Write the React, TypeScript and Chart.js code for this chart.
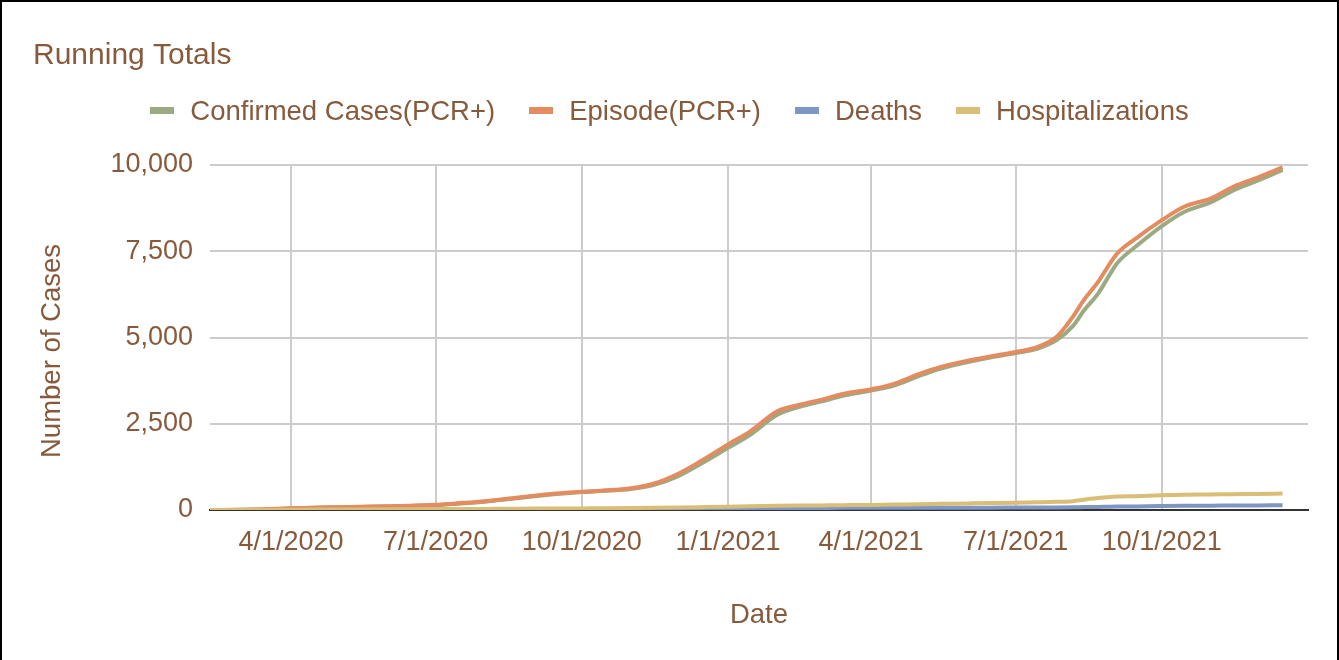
import React, { useEffect, useRef } from "react";
import { Chart, registerables } from "chart.js";

Chart.register(...registerables);

// ---- data ----
const dates = [
  "2/10/2020", "3/1/2020", "3/15/2020", "4/1/2020", "4/15/2020", "5/1/2020", "5/15/2020",
  "6/1/2020", "6/15/2020", "7/1/2020", "7/15/2020", "8/1/2020", "8/15/2020", "9/1/2020",
  "9/15/2020", "10/1/2020", "10/15/2020", "11/1/2020", "11/15/2020", "12/1/2020", "12/15/2020",
  "1/1/2021", "1/15/2021", "2/1/2021", "2/15/2021", "3/1/2021", "3/15/2021", "4/1/2021",
  "4/15/2021", "5/1/2021", "5/15/2021", "6/1/2021", "6/15/2021", "7/1/2021", "7/15/2021",
  "7/27/2021", "8/6/2021", "8/13/2021", "8/22/2021", "8/28/2021", "9/3/2021", "9/15/2021",
  "10/1/2021", "10/15/2021", "11/1/2021", "11/15/2021", "12/1/2021", "12/16/2021",
];

const confirmedCases = [
  0, 4, 18, 45, 62, 78, 90,
  104, 118, 140, 183, 240, 308, 398,
  460, 518, 555, 610, 720, 990, 1340,
  1800, 2180, 2760, 2990, 3150, 3320, 3460,
  3600, 3880, 4100, 4290, 4420, 4550, 4680,
  4930, 5330, 5780, 6280, 6730, 7160, 7650,
  8230, 8640, 8920, 9260, 9560, 9860,
];

const episodes = [
  0, 5, 20, 50, 68, 82, 95,
  110, 125, 150, 195, 255, 325, 415,
  475, 530, 565, 630, 760, 1060, 1420,
  1900, 2280, 2860, 3050, 3200, 3370, 3500,
  3650, 3940, 4150, 4330, 4450, 4580, 4730,
  5030, 5600, 6090, 6620, 7050, 7440, 7880,
  8400, 8790, 9030, 9370, 9650, 9930,
];

const deaths = [
  0, 0, 0, 1, 2, 3, 3,
  4, 4, 5, 6, 7, 8, 9,
  10, 11, 13, 16, 22, 28, 35,
  42, 48, 54, 58, 60, 62, 63,
  64, 65, 66, 67, 68, 70, 72,
  75, 80, 85, 90, 95, 100, 105,
  115, 120, 125, 129, 133, 137,
];

const hospitalizations = [
  0, 1, 3, 8, 12, 15, 18,
  20, 22, 25, 28, 32, 36, 40,
  43, 47, 50, 55, 62, 72, 82,
  95, 108, 120, 128, 134, 140, 148,
  158, 168, 178, 190, 200, 212, 225,
  238, 255, 300, 345, 370, 388, 400,
  425, 440, 450, 458, 466, 478,
];

const seriesNames = ["Confirmed Cases(PCR+)", "Episode(PCR+)", "Deaths", "Hospitalizations"];
const seriesColors = ["#9aab83", "#e48b5f", "#7d96c4", "#dabd77"];

const xTickLabels = ["4/1/2020", "7/1/2020", "10/1/2020", "1/1/2021", "4/1/2021", "7/1/2021", "10/1/2021"];
const xRange = ["2/10/2020", "1/1/2022"];
const yTickValues = [0, 2500, 5000, 7500, 10000];

const chartTitle = "Running Totals";
const xAxisTitle = "Date";
const yAxisTitle = "Number of Cases";

// ---- styling ----
const TEXT = "#885a3c";
const FONT = '"Liberation Sans", Arial, Helvetica, sans-serif';

function toDay(s: string): number {
  const [m, d, y] = s.split("/").map(Number);
  return Math.round((Date.UTC(y, m - 1, d) - Date.UTC(2020, 0, 1)) / 86400000);
}

const dayToLabel = new Map<number, string>(xTickLabels.map((l) => [toDay(l), l]));

const textPlugin = {
  id: "customText",
  afterDraw(chart: any) {
    const ctx = chart.ctx as CanvasRenderingContext2D;
    const ca = chart.chartArea;
    ctx.save();
    ctx.fillStyle = TEXT;
    ctx.textBaseline = "alphabetic";

    // title
    ctx.textAlign = "left";
    ctx.font = `30px ${FONT}`;
    ctx.fillText(chartTitle, 33, 64);

    // legend
    ctx.font = `27.5px ${FONT}`;
    const boxW = 24;
    const boxH = 7;
    const gapBox = 16;
    const gapItem = 34;
    const widths = seriesNames.map((n) => ctx.measureText(n).width);
    const total = widths.reduce((a, w) => a + boxW + gapBox + w, 0) + gapItem * (seriesNames.length - 1);
    let x = (chart.width - total) / 2;
    const cy = 110.5;
    seriesNames.forEach((name, i) => {
      ctx.fillStyle = seriesColors[i];
      ctx.fillRect(Math.round(x), cy - boxH / 2, boxW, boxH);
      x += boxW + gapBox;
      ctx.fillStyle = TEXT;
      ctx.fillText(name, x, 120);
      x += widths[i] + gapItem;
    });

    // x axis title
    ctx.textAlign = "center";
    ctx.font = `27.5px ${FONT}`;
    ctx.fillText(xAxisTitle, (ca.left + ca.right) / 2, 623);

    // y axis title
    ctx.translate(60, 351);
    ctx.rotate(-Math.PI / 2);
    ctx.fillText(yAxisTitle, 0, 0);
    ctx.restore();
  },
};

export default function App() {
  const canvasRef = useRef<HTMLCanvasElement | null>(null);

  useEffect(() => {
    document.body.style.margin = "0";
    const canvas = canvasRef.current;
    if (!canvas) return;
    const xs = dates.map(toDay);
    const series = [confirmedCases, episodes, deaths, hospitalizations];
    const orders = [3, 2, 1, 0];

    const chart = new Chart(canvas, {
      type: "line",
      data: {
        datasets: series.map((vals, i) => ({
          label: seriesNames[i],
          data: vals.map((v, j) => ({ x: xs[j], y: v })),
          borderColor: seriesColors[i],
          backgroundColor: seriesColors[i],
          borderWidth: 4,
          pointRadius: 0,
          pointHoverRadius: 0,
          cubicInterpolationMode: "monotone",
          fill: false,
          order: orders[i],
        })),
      },
      plugins: [textPlugin],
      options: {
        animation: false,
        responsive: false,
        devicePixelRatio: 1,
        layout: { padding: { top: 165, right: 31, bottom: 0, left: 0 } },
        plugins: {
          legend: { display: false },
          title: { display: false },
          tooltip: { enabled: false },
        },
        scales: {
          x: {
            type: "linear",
            min: toDay(xRange[0]),
            max: toDay(xRange[1]),
            afterBuildTicks: (scale: any) => {
              scale.ticks = xTickLabels.map((l) => ({ value: toDay(l) }));
            },
            afterFit: (scale: any) => {
              scale.height = 150;
            },
            ticks: {
              autoSkip: false,
              maxRotation: 0,
              minRotation: 0,
              padding: 16,
              color: TEXT,
              font: { family: FONT, size: 27 },
              callback: (v: any) => dayToLabel.get(Number(v)) ?? "",
            },
            grid: { color: "#cccccc", lineWidth: 2, drawTicks: false },
            border: { display: true, color: "#333333", width: 2 },
          },
          y: {
            min: 0,
            max: 10000,
            afterBuildTicks: (scale: any) => {
              scale.ticks = yTickValues.map((v) => ({ value: v }));
            },
            afterFit: (scale: any) => {
              scale.width = 210;
            },
            ticks: {
              padding: 17,
              color: TEXT,
              font: { family: FONT, size: 27 },
              callback: (v: any) => Number(v).toLocaleString("en-US"),
            },
            grid: { color: "#cccccc", lineWidth: 2, drawTicks: false },
            border: { display: false },
          },
        },
      },
    } as any);

    return () => chart.destroy();
  }, []);

  return (
    <div style={{ position: "relative", width: 1339, height: 660, overflow: "hidden", background: "#ffffff" }}>
      <canvas ref={canvasRef} width={1339} height={660} style={{ display: "block" }} />
      <div
        style={{
          position: "absolute",
          left: 0,
          top: 0,
          width: 1339,
          height: 700,
          boxSizing: "border-box",
          borderTop: "2px solid #000",
          borderLeft: "2px solid #000",
          borderRight: "2px solid #000",
          pointerEvents: "none",
        }}
      />
    </div>
  );
}
